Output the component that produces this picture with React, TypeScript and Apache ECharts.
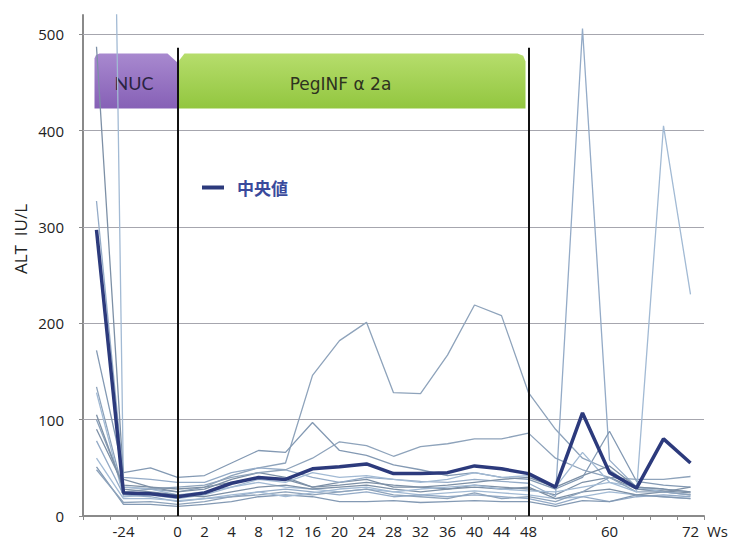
import React, { useEffect, useRef } from "react";
import * as echarts from "echarts";

const categories = ["-28", "-24", "-12", "0", "2", "4", "8", "12", "16", "20", "24", "28", "32", "36", "40", "44", "48", "52", "56", "60", "64", "68", "72"];
const shownLabels = ["-24", "0", "2", "4", "8", "12", "16", "20", "24", "28", "32", "36", "40", "44", "48", "60", "72"];
const yTicks = [0, 100, 200, 300, 400, 500];
const gridValues = [100, 200, 300, 400, 500];

const median = [297, 24, 23, 20, 24, 34, 40, 38, 49, 51, 54, 44, 44, 45, 52, 49, 44, 30, 107, 45, 29, 80, 55];

const p1 = [100, 30, 28, 25, 30, 42, 50, 55, 146, 182, 201, 128, 127, 167, 219, 208, 128, 90, 60, 48, 28, 25, 22];
const p2 = [1950, 30, 28, 22, 25, 30, 35, 30, 28, 25, 28, 25, 22, 24, 26, 24, 22, 18, 20, 25, 22, 20, 18];
const p3 = [487, 38, 30, 25, 28, 38, 45, 40, 30, 35, 38, 30, 30, 28, 32, 30, 28, 22, 35, 40, 28, 26, 24];
const p4 = [327, 40, 38, 35, 35, 45, 50, 48, 40, 35, 40, 38, 36, 35, 38, 36, 34, 20, 506, 58, 30, 28, 25];
const p5 = [172, 45, 50, 40, 42, 55, 68, 66, 97, 68, 63, 53, 48, 42, 45, 40, 38, 28, 40, 88, 36, 32, 30];
const p6 = [134, 25, 28, 30, 32, 40, 45, 48, 60, 77, 73, 62, 72, 75, 80, 80, 86, 60, 48, 40, 38, 38, 41];
const p7 = [128, 20, 22, 18, 22, 30, 38, 35, 45, 40, 42, 38, 35, 38, 45, 40, 42, 30, 66, 35, 30, 25, 22];
const p8 = [105, 28, 25, 22, 20, 25, 30, 32, 28, 30, 32, 28, 25, 28, 30, 28, 30, 18, 25, 28, 22, 25, 30];
const p9 = [78, 22, 20, 15, 18, 20, 25, 28, 25, 22, 25, 20, 22, 20, 22, 20, 18, 12, 20, 15, 20, 22, 20];
const p10 = [51, 12, 12, 10, 12, 15, 20, 22, 20, 15, 15, 16, 14, 15, 16, 15, 15, 10, 16, 15, 22, 20, 18];
const p11 = [48, 14, 15, 12, 15, 20, 22, 25, 22, 25, 28, 22, 20, 18, 24, 18, 20, 15, 25, 40, 25, 25, 22];
const p12 = [60, 18, 18, 16, 18, 22, 25, 20, 24, 28, 30, 25, 28, 30, 32, 28, 26, 25, 30, 35, 25, 405, 230];
const p13 = [90, 32, 30, 28, 30, 35, 40, 38, 30, 32, 35, 32, 30, 32, 35, 38, 40, 30, 42, 52, 30, 28, 25];

const patients = [p1, p2, p3, p4, p5, p6, p7, p8, p9, p10, p11, p12, p13];
const thinColors = ["#8ea3bb", "#a2bad4", "#7d90a6", "#94abc7", "#8399b3"];

export default function App() {
  const ref = useRef<HTMLDivElement>(null);

  useEffect(() => {
    if (!ref.current) return;
    const chart = echarts.init(ref.current, null, { renderer: "svg" });

    const thinSeries = patients.map((d, i) => ({
      name: "p" + (i + 1),
      type: "line",
      data: d,
      showSymbol: false,
      symbol: "none",
      z: 2,
      lineStyle: { color: thinColors[i % thinColors.length], width: 1.3 },
      itemStyle: { color: thinColors[i % thinColors.length] },
      ...(i === 0
        ? {
            markLine: {
              z: 1,
              silent: true,
              symbol: "none",
              label: { show: false },
              lineStyle: { color: "#a6a6ae", width: 1, type: "solid" },
              data: gridValues.map((v) => ({ yAxis: v })),
            },
          }
        : {}),
    }));

    const option: any = {
      animation: false,
      grid: { left: 83, right: 26, top: 15, bottom: 27, containLabel: false, outerBoundsMode: "none" },
      legend: {
        data: [{ name: "中央値", icon: "rect" }],
        left: 202,
        top: 179,
        padding: 0,
        itemWidth: 22,
        itemHeight: 4,
        selectedMode: false,
        textStyle: {
          fontSize: 17,
          fontWeight: "bold",
          color: "#3a4a9c",
          fontFamily: "Noto Sans CJK JP",
          padding: [0, 0, 0, 8],
        },
      },
      xAxis: {
        type: "category",
        data: categories,
        boundaryGap: true,
        axisLine: { lineStyle: { color: "#8a8a8a", width: 2 } },
        axisTick: { show: true, interval: 0, length: 4, lineStyle: { color: "#8a8a8a" } },
        axisLabel: {
          interval: 0,
          margin: 7,
          fontSize: 15,
          color: "#222",
          fontFamily: "Open Sans",
          formatter: (v: string) => (shownLabels.includes(v) ? v : ""),
        },
        splitLine: { show: false },
      },
      yAxis: {
        type: "value",
        min: 0,
        max: 520,
        interval: 100,
        axisLine: { show: true, lineStyle: { color: "#8a8a8a", width: 2 } },
        axisTick: { show: true, length: 4, customValues: yTicks, lineStyle: { color: "#8a8a8a" } },
        axisLabel: {
          margin: 19,
          fontSize: 15,
          color: "#222",
          fontFamily: "Open Sans",
          customValues: yTicks,
        },
        splitLine: { show: false },
      },
      series: [
        ...thinSeries,
        {
          name: "中央値",
          type: "line",
          data: median,
          showSymbol: false,
          symbol: "none",
          z: 3,
          lineStyle: { color: "#2c3a7c", width: 3.5 },
          itemStyle: { color: "#2c3a7c" },
          markLine: {
            silent: true,
            symbol: "none",
            label: { show: false },
            lineStyle: { color: "#111", width: 2, type: "solid" },
            data: [
              [{ coord: ["0", 0] }, { coord: ["0", 486] }],
              [{ coord: ["48", 0] }, { coord: ["48", 486] }],
            ],
          },
        },
      ],
    };

    chart.setOption(option);

    const px = (c: string, v: number) => chart.convertToPixel({ gridIndex: 0 }, [c, v]) as number[];
    const a = px("-28", 480);
    const b = px("0", 423);
    const c = px("48", 423);
    const L = a[0] - 2;
    const T = a[1];
    const R = b[0];
    const B = b[1];
    const R2 = c[0] - 3;

    const purple = {
      type: "linear", x: 0, y: 0, x2: 0, y2: 1,
      colorStops: [
        { offset: 0, color: "#a889cf" },
        { offset: 1, color: "#8660b6" },
      ],
    };
    const green = {
      type: "linear", x: 0, y: 0, x2: 0, y2: 1,
      colorStops: [
        { offset: 0, color: "#b6dd6c" },
        { offset: 1, color: "#92c63f" },
      ],
    };

    chart.setOption({
      graphic: [
        {
          type: "polygon",
          z: 0,
          shape: {
            points: [[L, B], [L, T + 5], [L + 1.5, T + 1.5], [L + 5, T], [R - 10, T], [R, T + 9], [R, B]],
          },
          style: { fill: purple },
        },
        {
          type: "polygon",
          z: 0,
          shape: {
            points: [[R, B], [R, T + 9], [R + 7, T], [R2 - 8, T], [R2 - 2.3, T + 2.3], [R2, T + 8], [R2, B]],
          },
          style: { fill: green },
        },
        {
          type: "text",
          z: 1,
          x: (L + R) / 2 - 2,
          y: (T + B) / 2 + 2,
          style: {
            text: "NUC",
            fontSize: 18,
            fontFamily: "Lato",
            fill: "#2a2340",
            align: "center",
            verticalAlign: "middle",
          },
        },
        {
          type: "text",
          z: 1,
          x: (R + R2) / 2 - 11,
          y: (T + B) / 2 + 3,
          style: {
            text: "PegINF α 2a",
            fontSize: 17,
            fontFamily: "DejaVu Sans",
            fill: "#2e3320",
            align: "center",
            verticalAlign: "middle",
          },
        },
        {
          type: "text",
          x: 20,
          y: 239,
          rotation: Math.PI / 2,
          style: {
            text: "ALT  IU/L",
            fontSize: 17,
            fontFamily: "Open Sans",
            fill: "#222",
            align: "center",
            verticalAlign: "middle",
          },
        },
        {
          type: "text",
          x: 707,
          y: 531,
          style: {
            text: "Ws",
            fontSize: 15,
            fontFamily: "Open Sans",
            fill: "#222",
            align: "left",
            verticalAlign: "middle",
          },
        },
      ],
    });

    return () => chart.dispose();
  }, []);

  return (
    <div
      ref={ref}
      style={{ position: "fixed", left: 0, top: 0, width: 730, height: 543, background: "#fff" }}
    />
  );
}
